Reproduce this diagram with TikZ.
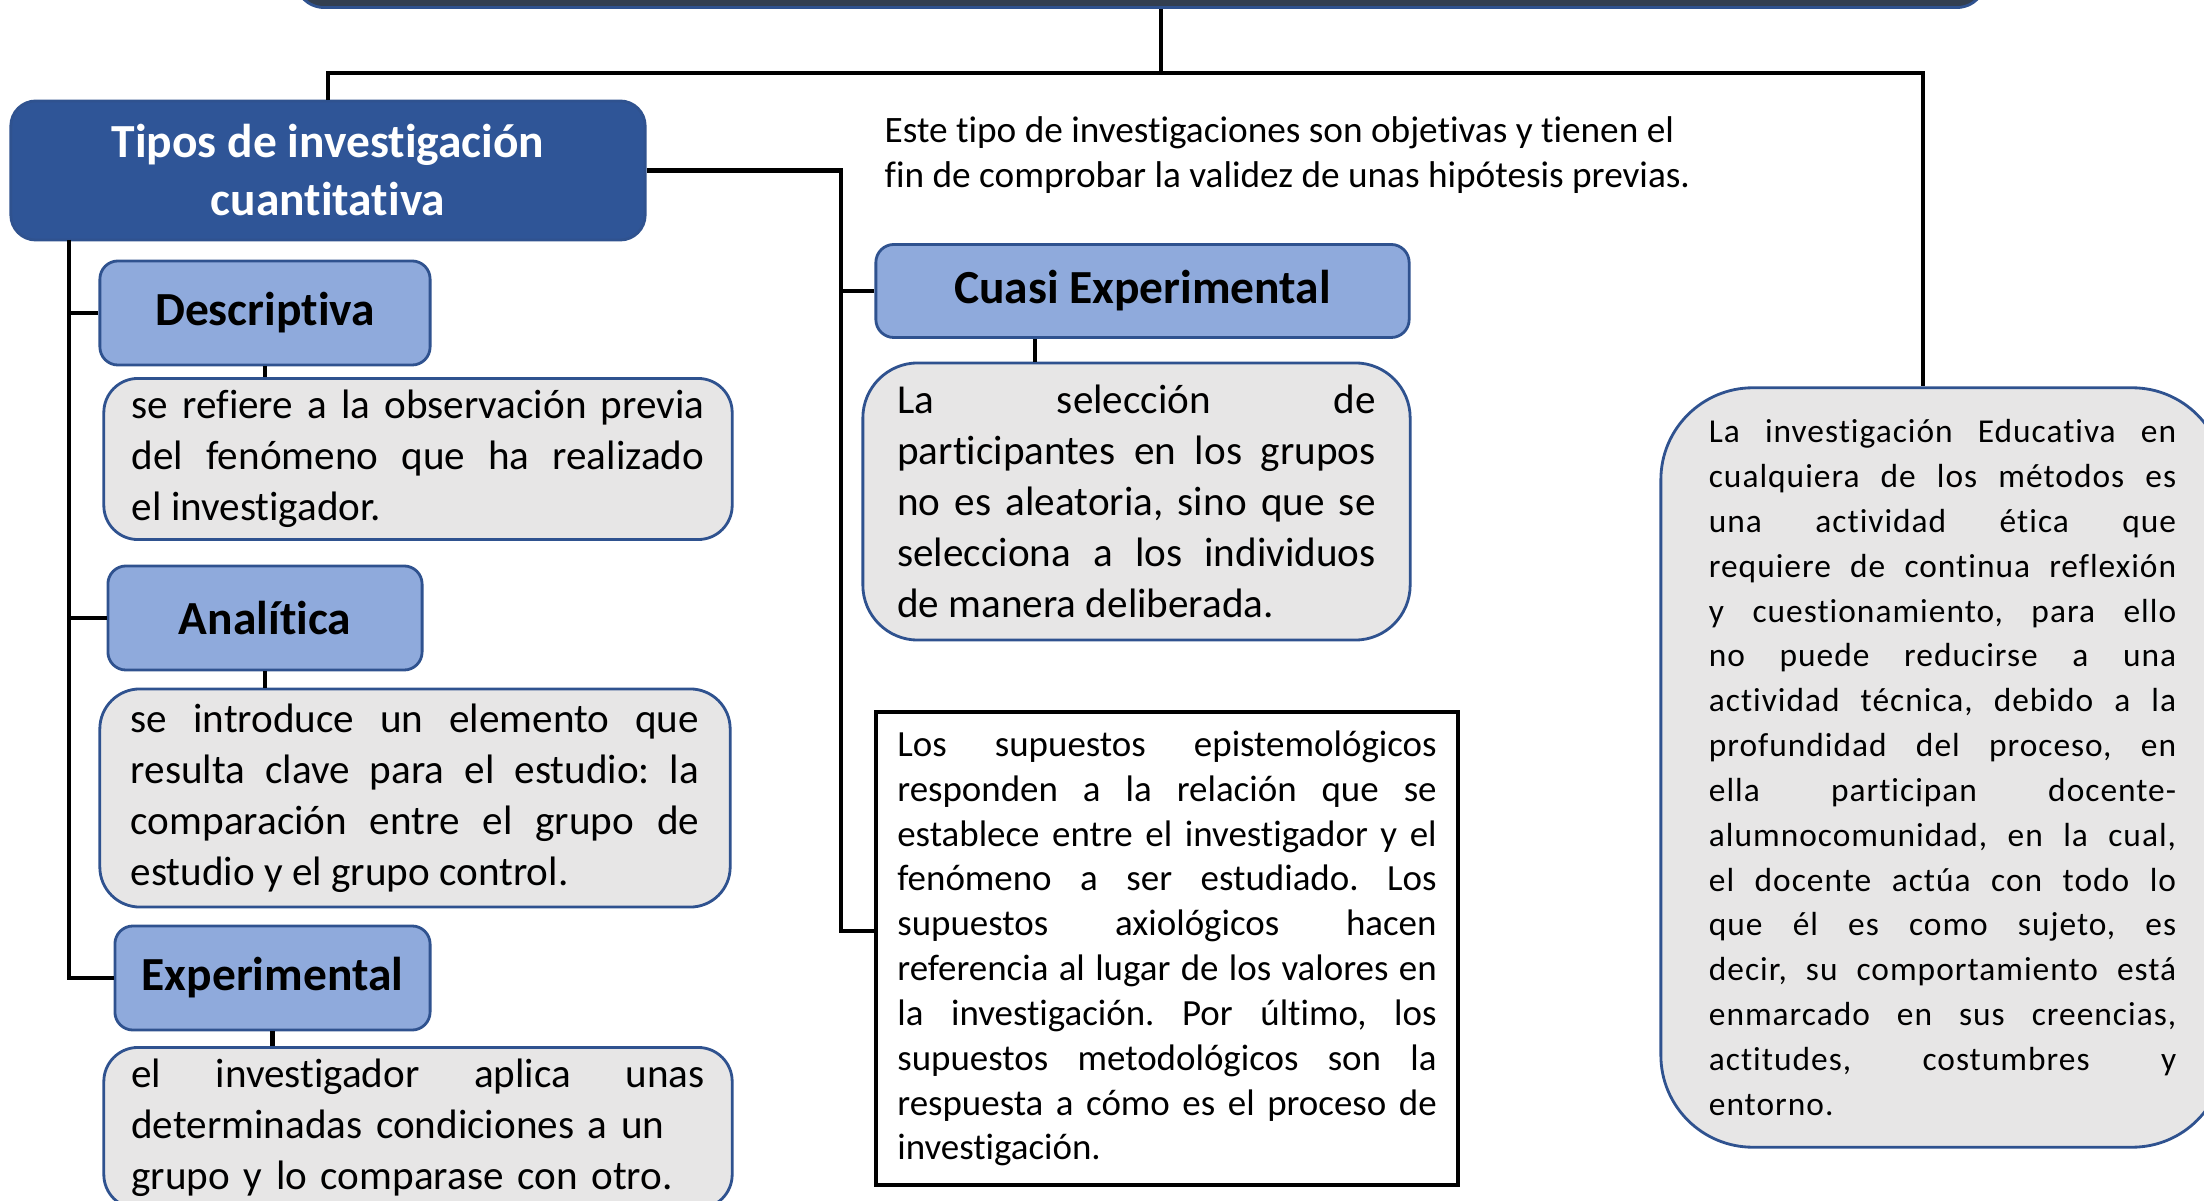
\documentclass[tikz,border=0pt]{standalone}
\usepackage{fontspec}
\setmainfont{Carlito}[Ligatures=NoCommon]
\newfontfamily\wideface{Carlito}[LetterSpace=3,Ligatures=NoCommon]
\usepackage{tikz}
\usepackage{xcolor}
\definecolor{MCSlate}{HTML}{333F50}
\definecolor{MCBlue}{HTML}{2F5597}
\definecolor{MCLine}{HTML}{2F528F}
\definecolor{MCSky}{HTML}{8FAADC}
\definecolor{MCGray}{HTML}{E7E6E6}
\hyphenpenalty=10000
\exhyphenpenalty=10000
\tolerance=10000
\hbadness=10000
\frenchspacing

\begin{document}
\begin{tikzpicture}[x=0.01cm,y=-0.01cm,
  conn/.style={line width=1.4pt},
  head/.style={draw=MCLine,line width=0.8pt,fill=MCSky,rounded corners=0.18cm,
    font=\bfseries\fontsize{13.5}{16}\selectfont},
  note/.style={draw=MCLine,line width=0.8pt,fill=MCGray,align=justify,
    font=\fontsize{11.7}{14.5}\selectfont}]
  \useasboundingbox (0,0) rectangle (2204,1201);
  \clip (0,0) rectangle (2204,1201);
  % mapa
  \node[fill=MCSlate,draw=MCLine,line width=0.8pt,rounded corners=0.3cm,
    minimum width=16.91cm,minimum height=1.6cm,anchor=south] (raiz) at (1140.5,9) {};
  \node[fill=MCBlue,draw=MCLine,line width=0.8pt,text=white,rounded corners=0.25cm,
    minimum width=6.34cm,minimum height=1.39cm,align=center,
    font=\bfseries\fontsize{13.5}{16.5}\selectfont] (tipos) at (328,170.5)
    {Tipos de investigación\\cuantitativa};
  \node[align=left,inner sep=0pt,anchor=west,font=\fontsize{10.6}{12.8}\selectfont] (nota) at (884,155)
    {Este tipo de investigaciones son objetivas y tienen el\\fin de comprobar la validez de unas hipótesis previas.};
  % tipos
  \node[head,minimum width=3.30cm,minimum height=1.04cm] (descr) at (265,313) {Descriptiva};
  \node[head,minimum width=3.14cm,minimum height=1.04cm] (anali) at (265,618) {Analítica};
  \node[head,minimum width=3.15cm,minimum height=1.04cm] (exper) at (272.5,978) {Experimental};
  \node[head,minimum width=5.33cm,minimum height=0.93cm] (cuasi) at (1142.5,291) {Cuasi Experimental};
  \node[note,text width=5.72cm,minimum width=6.28cm,minimum height=1.60cm,rounded corners=0.34cm]
    (descr-t) at (418,459)
    {se refiere a la observación previa\linebreak del fenómeno que ha realizado\linebreak el investigador.};
  \node[note,text width=5.68cm,minimum width=6.30cm,minimum height=2.18cm,rounded corners=0.4cm]
    (anali-t) at (415,798)
    {se introduce un elemento que\linebreak resulta clave para el estudio: la\linebreak comparación entre el grupo de\linebreak estudio y el grupo control.};
  \node[note,align=left,text width=5.73cm,minimum width=6.28cm,minimum height=1.60cm,rounded corners=0.34cm]
    (exper-t) at (418,1128)
    {\hbox to 5.73cm{el\hfill investigador\hfill aplica\hfill unas}\\determinadas condiciones a un\\grupo y lo comparase con otro.};
  \node[note,text width=4.78cm,minimum width=5.47cm,minimum height=2.77cm,rounded corners=0.55cm]
    (cuasi-t) at (1136.5,501.5)
    {La selección de\linebreak participantes en los grupos\linebreak no es aleatoria, sino que se\linebreak selecciona a los individuos\linebreak de manera deliberada.};
  \node[draw=black,line width=1.1pt,fill=white,align=justify,text width=5.39cm,
    minimum width=5.82cm,minimum height=4.73cm,font=\fontsize{10.5}{12.75}\selectfont]
    (supuestos) at (1167,948.5)
    {Los supuestos epistemológicos\linebreak responden a la relación que se\linebreak establece entre el investigador y el\linebreak fenómeno a ser estudiado. Los\linebreak supuestos axiológicos hacen\linebreak referencia al lugar de los valores en\linebreak la investigación. Por último, los\linebreak supuestos metodológicos son la\linebreak respuesta a cómo es el proceso de\linebreak investigación.};
  \node[note,text width=4.67cm,minimum width=5.63cm,minimum height=7.59cm,rounded corners=0.92cm,
    font=\wideface\fontsize{9.5}{12.75}\selectfont] (educ) at (1942.5,767.5)
    {La investigación Educativa en\linebreak cualquiera de los métodos es\linebreak una actividad ética que\linebreak requiere de continua reflexión\linebreak y cuestionamiento, para ello\linebreak no puede reducirse a una\linebreak actividad técnica, debido a la\linebreak profundidad del proceso, en\linebreak ella participan docente-\linebreak alumnocomunidad, en la cual,\linebreak el docente actúa con todo lo\linebreak que él es como sujeto, es\linebreak decir, su comportamiento está\linebreak enmarcado en sus creencias,\linebreak actitudes, costumbres y\linebreak entorno.};
  % conectores
  \coordinate (hub) at (1161,73);
  \coordinate (hubR) at (1923,73);
  \coordinate (spine) at (69,240);
  \coordinate (midx) at (841,931);
  \coordinate (cq) at (1035,0);
  \draw[line width=1pt] (raiz.south -| hub) -- (hub);
  \draw[conn] (tipos.north) |- (hubR) -- (educ.north -| hubR);
  \draw[conn] (spine) |- (exper.west);
  \foreach \n in {descr,anali}
    \draw[conn] (spine |- \n.west) -- (\n.west);
  \draw[conn] (tipos.east) -| (midx) -- (supuestos.west |- midx);
  \draw[conn] (cuasi.west -| midx) -- (cuasi.west);
  \foreach \n in {descr,anali,exper}
    \draw[line width=1.2pt] (\n.south) -- (\n.south |- \n-t.north);
  \draw[line width=1.2pt] (cuasi.south -| cq) -- (cuasi-t.north -| cq);
\end{tikzpicture}
\end{document}
